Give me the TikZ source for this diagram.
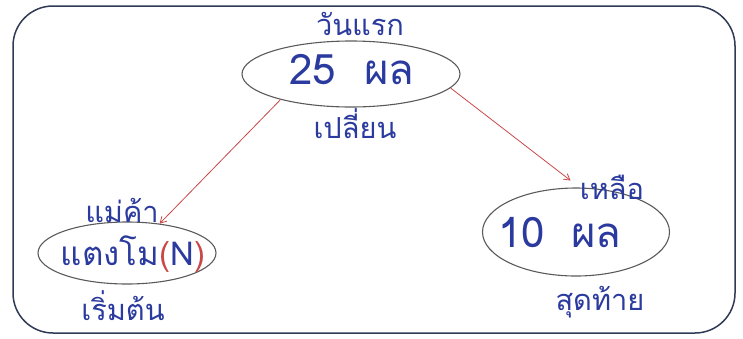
\documentclass[tikz,border=0pt]{standalone}
\usepackage{fontspec}
\newfontfamily\thaifont[Script=Thai]{Loma}
\usetikzlibrary{shapes.geometric,arrows.meta}
\definecolor{inkblue}{HTML}{2B3A9E}
\definecolor{pencil}{HTML}{5A5A5A}
\definecolor{redpen}{HTML}{C84848}
\definecolor{framecol}{HTML}{2F3A55}
\tikzset{
  bubble/.style={ellipse, draw=pencil, line width=1.1pt, inner sep=0pt},
  count/.style={text=inkblue, font=\thaifont\fontsize{42}{44}\selectfont, inner sep=0pt},
  word/.style={text=inkblue, font=\thaifont\fontsize{29}{31}\selectfont, inner sep=0pt},
  fruit/.style={text=inkblue, font=\thaifont\fontsize{33}{35}\selectfont, inner sep=0pt},
  flow/.style={draw=redpen, line width=0.8pt, -{Straight Barb[length=6pt,width=7pt]}},
}
\begin{document}
\begin{tikzpicture}[x=1pt,y=-1pt]
\useasboundingbox (0,0) rectangle (743,338);
% outer frame
\draw[framecol, line width=1.5pt, rounded corners=40pt] (13,6) rectangle (735,333);

% first day: 25 fruits
\node[bubble, minimum width=218pt, minimum height=66pt] (first) at (351,74) {};
\node[count] (firstnum) at (352,70) {25\hspace{28pt}ผล};
\node[word] (firsttop) at (360,24) {วันแรก};
\node[word] (firstbot) at (355,124) {เปลี่ยน};

% seller: watermelon (N)
\node[bubble, minimum width=178pt, minimum height=62pt] (seller) at (127,253) {};
\node[fruit] (sellertxt) at (133,254) {แตงโม{\color{redpen}(}N{\color{redpen})}};
\node[word] (sellertop) at (122,210) {แม่ค้า};
\node[word] (sellerbot) at (123,306) {เริ่มต้น};

% last: 10 fruits left
\node[bubble, minimum width=187pt, minimum height=88pt] (last) at (576,232) {};
\node[count] (lastnum) at (560,233) {10\hspace{26pt}ผล};
\node[word] (lasttop) at (612,187) {เหลือ};
\node[word] (lastbot) at (600,302) {สุดท้าย};

% connectors
\draw[flow] (first.-160) -- (seller.42);
\draw[flow] (first.-8) -- ([yshift=7pt]last.97);
\end{tikzpicture}
\end{document}
